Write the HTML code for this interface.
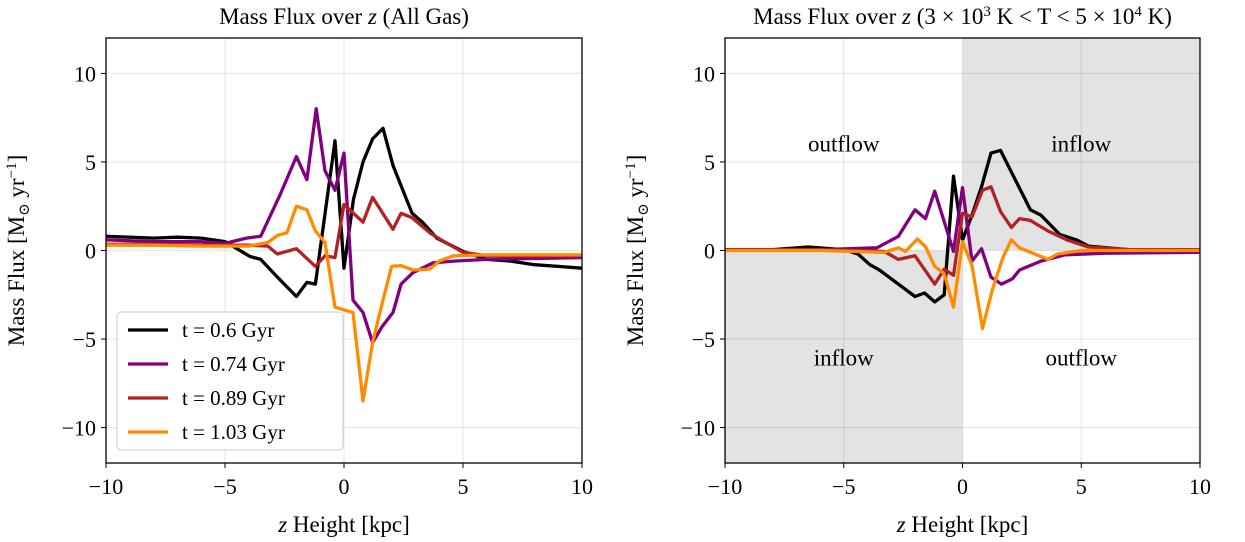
<!DOCTYPE html>
<html><head><meta charset="utf-8"><style>
html,body{margin:0;padding:0;background:#fff}
svg{display:block;font-family:"Liberation Serif","DejaVu Serif",serif}
</style></head><body>
<svg id="fig" width="1245" height="542" viewBox="0 0 1245 542"></svg>
<script>
const seriesNames=["t = 0.6 Gyr","t = 0.74 Gyr","t = 0.89 Gyr","t = 1.03 Gyr"];
const seriesColors=["#000000","#800080","#b22222","#ff8c00"];
const xTicks=[-10,-5,0,5,10];
const yTicks=[-10,-5,0,5,10];
// Left panel (All Gas)
const L0x=[-10,-9,-8,-7,-6,-5,-4.5,-3.95,-3.5,-2.8,-2.0,-1.56,-1.2,-0.38,0,0.4,0.8,1.2,1.64,2.06,2.86,3.3,3.9,5,6,7,8,9,10];
const L0y=[0.8,0.75,0.7,0.75,0.7,0.5,0.1,-0.34,-0.5,-1.5,-2.6,-1.8,-1.9,6.2,-1.0,2.9,5.0,6.3,6.9,4.8,2.1,1.6,0.7,-0.05,-0.5,-0.6,-0.8,-0.9,-1.0];
const L1x=[-10,-8,-6,-5,-4.1,-3.5,-2.7,-2.0,-1.56,-1.17,-0.8,-0.38,0,0.38,0.8,1.2,1.6,2.06,2.4,2.9,3.74,4.6,6,8,10];
const L1y=[0.6,0.5,0.5,0.4,0.7,0.8,3.1,5.3,4.0,8.0,4.5,3.4,5.5,-2.8,-3.5,-5.2,-4.3,-3.5,-1.9,-1.25,-0.7,-0.6,-0.5,-0.45,-0.4];
const L2x=[-10,-8,-6,-4,-3.2,-2.8,-2.0,-1.2,-0.8,-0.38,0,0.8,1.2,2.06,2.4,2.86,3.6,4.2,5,6,8,10];
const L2y=[0.35,0.35,0.3,0.3,0.25,-0.2,0.1,-0.9,-0.3,-0.4,2.6,1.6,3.0,1.2,2.1,1.85,1.0,0.5,-0.1,-0.3,-0.3,-0.3];
const L3x=[-10,-8,-6,-4,-3.2,-2.8,-2.4,-2.0,-1.56,-1.2,-0.8,-0.38,0.38,0.8,1.2,1.6,2.0,2.4,2.9,3.6,4.0,4.6,6,8,10];
const L3y=[0.3,0.3,0.25,0.25,0.45,0.85,1.0,2.5,2.3,1.1,0.45,-3.2,-3.5,-8.5,-5.2,-3.0,-0.9,-0.85,-1.1,-1.05,-0.6,-0.3,-0.25,-0.25,-0.25];
// Right panel (3e3 K < T < 5e4 K)
const R0x=[-10,-8,-6.5,-5,-4.4,-3.9,-3.5,-2.6,-2.0,-1.6,-1.17,-0.77,-0.38,0,0.4,0.8,1.2,1.6,2.86,3.3,4.1,4.8,5.3,7,10];
const R0y=[0.05,0.05,0.2,0.05,-0.2,-0.8,-1.1,-2.0,-2.6,-2.4,-2.9,-2.5,4.2,0.6,2.0,3.6,5.5,5.65,2.3,2.0,0.9,0.6,0.25,0.05,0];
const R1x=[-10,-6,-3.6,-2.7,-2.0,-1.56,-1.17,-0.38,0,0.4,0.8,1.2,1.64,2.1,2.4,3.3,4.3,6,10];
const R1y=[0.05,0.05,0.15,0.8,2.3,1.8,3.35,-0.05,3.55,-0.6,0.1,-1.5,-1.9,-1.6,-1.1,-0.6,-0.25,-0.15,-0.1];
const R2x=[-10,-6,-3.3,-2.7,-2.0,-1.17,-0.77,-0.38,0,0.4,0.84,1.2,1.6,2.06,2.4,2.86,3.6,4.4,5.3,7,10];
const R2y=[0.05,0.05,-0.05,-0.5,-0.3,-1.9,-1.05,-1.4,2.1,1.9,3.4,3.6,2.2,1.3,1.8,1.7,1.1,0.6,0.2,0.05,0.05];
const R3x=[-10,-6,-3.3,-2.7,-2.4,-1.9,-1.55,-1.17,-0.77,-0.38,0,0.4,0.84,1.26,1.7,2.06,2.4,3.6,4.0,5,7,10];
const R3y=[0,0,-0.1,0.15,-0.05,0.65,0.2,-0.9,-1.3,-3.2,0.5,-0.85,-4.4,-2.2,-0.4,0.6,0.15,-0.5,-0.2,0,0,0];

const NS="http://www.w3.org/2000/svg";
const svg=document.getElementById('fig');
function mk(tag,attrs,parent,txt){const e=document.createElementNS(NS,tag);for(const k in attrs)e.setAttribute(k,attrs[k]);if(txt!==undefined)e.textContent=txt;(parent||svg).appendChild(e);return e;}

function panel(px0,px1,py0,py1,title,series,shaded,pname){
  const g=mk('g',{});
  
  
  const xs=v=>px0+(v+10)/20*(px1-px0);
  const ys=v=>py1-(v+12)/24*(py1-py0);
  if(shaded){
    const s1=mk('rect',{x:px0,y:ys(0),width:xs(0)-px0,height:py1-ys(0),fill:'#e3e3e3'},g);
    
    
    const s2=mk('rect',{x:xs(0),y:py0,width:px1-xs(0),height:ys(0)-py0,fill:'#e3e3e3'},g);
    
    
  }
  xTicks.forEach(t=>{const l=mk('line',{x1:xs(t),x2:xs(t),y1:py0,y2:py1,stroke:'#000','stroke-opacity':0.1,'stroke-width':1},g);
    });
  yTicks.forEach(t=>{const l=mk('line',{y1:ys(t),y2:ys(t),x1:px0,x2:px1,stroke:'#000','stroke-opacity':0.1,'stroke-width':1},g);
    });
  if(shaded){
    [["outflow",-5,6],["inflow",5,6],["inflow",-5,-6.1],["outflow",5,-6.1]].forEach(a=>{
      const t=mk('text',{x:xs(a[1]),y:ys(a[2])+7,'text-anchor':'middle','font-size':23},g,a[0]);
      });
  }
  series.forEach((s,i)=>{
    const d=s[0].map((x,j)=>(j?'L':'M')+xs(x).toFixed(1)+','+ys(s[1][j]).toFixed(1)).join('');
    const p=mk('path',{d:d,fill:'none',stroke:seriesColors[i],'stroke-width':3.3,'stroke-linejoin':'round'},g);
    
    
  });
  const fr=mk('rect',{x:px0,y:py0,width:px1-px0,height:py1-py0,fill:'none',stroke:'#000','stroke-width':1.3},g);
  
  xTicks.forEach(t=>{mk('line',{x1:xs(t),x2:xs(t),y1:py1,y2:py1+5,stroke:'#000'},g);
    const tx=mk('text',{x:xs(t),y:py1+31,'text-anchor':'middle','font-size':22},g,(t<0?'\u2212':'')+Math.abs(t));
    });
  yTicks.forEach(t=>{mk('line',{x1:px0-5,x2:px0,y1:ys(t),y2:ys(t),stroke:'#000'},g);
    const tx=mk('text',{x:px0-10,y:ys(t)+8,'text-anchor':'end','font-size':22},g,(t<0?'\u2212':'')+Math.abs(t));
    });
  const tt=mk('text',{x:(px0+px1)/2,y:24,'text-anchor':'middle','font-size':23},g);
  tt.innerHTML=title;
  
  const xl=mk('text',{x:(px0+px1)/2,y:532,'text-anchor':'middle','font-size':23},g);
  xl.innerHTML='<tspan font-style="italic">z</tspan> Height [kpc]';
  
  const yl=mk('text',{x:0,y:0,'text-anchor':'middle','font-size':23,transform:'translate('+(px0-82)+','+((py0+py1)/2)+') rotate(-90)'},g);
  yl.innerHTML='Mass Flux [M<tspan font-size="15" dy="5">\u2299</tspan><tspan dy="-5"> yr</tspan><tspan font-size="15" dy="-8">\u22121</tspan><tspan dy="8">]</tspan>';
  
  return {g,xs,ys};
}
panel(106,582,38,463,'Mass Flux over <tspan font-style="italic">z</tspan> (All Gas)',[[L0x,L0y],[L1x,L1y],[L2x,L2y],[L3x,L3y]],false,'left-panel');
panel(725,1200,38,463,'Mass Flux over <tspan font-style="italic">z</tspan> (3 \u00d7 10<tspan font-size="15" dy="-8">3</tspan><tspan dy="8"> K &lt; T &lt; 5 \u00d7 10</tspan><tspan font-size="15" dy="-8">4</tspan><tspan dy="8"> K)</tspan>',[[R0x,R0y],[R1x,R1y],[R2x,R2y],[R3x,R3y]],true,'right-panel');
// legend
const lg=mk('g',{});


mk('rect',{x:117,y:312,width:226,height:138,rx:4,fill:'#fff','fill-opacity':0.85,stroke:'#ccc'},lg);
seriesNames.forEach((n,i)=>{
  const y=330+i*34;
  const e=mk('g',{},lg);
  
  
  mk('line',{x1:128,x2:168,y1:y,y2:y,stroke:seriesColors[i],'stroke-width':3.3},e);
  mk('text',{x:182,y:y+7,'font-size':21},e,n);
});
</script>
</body></html>
